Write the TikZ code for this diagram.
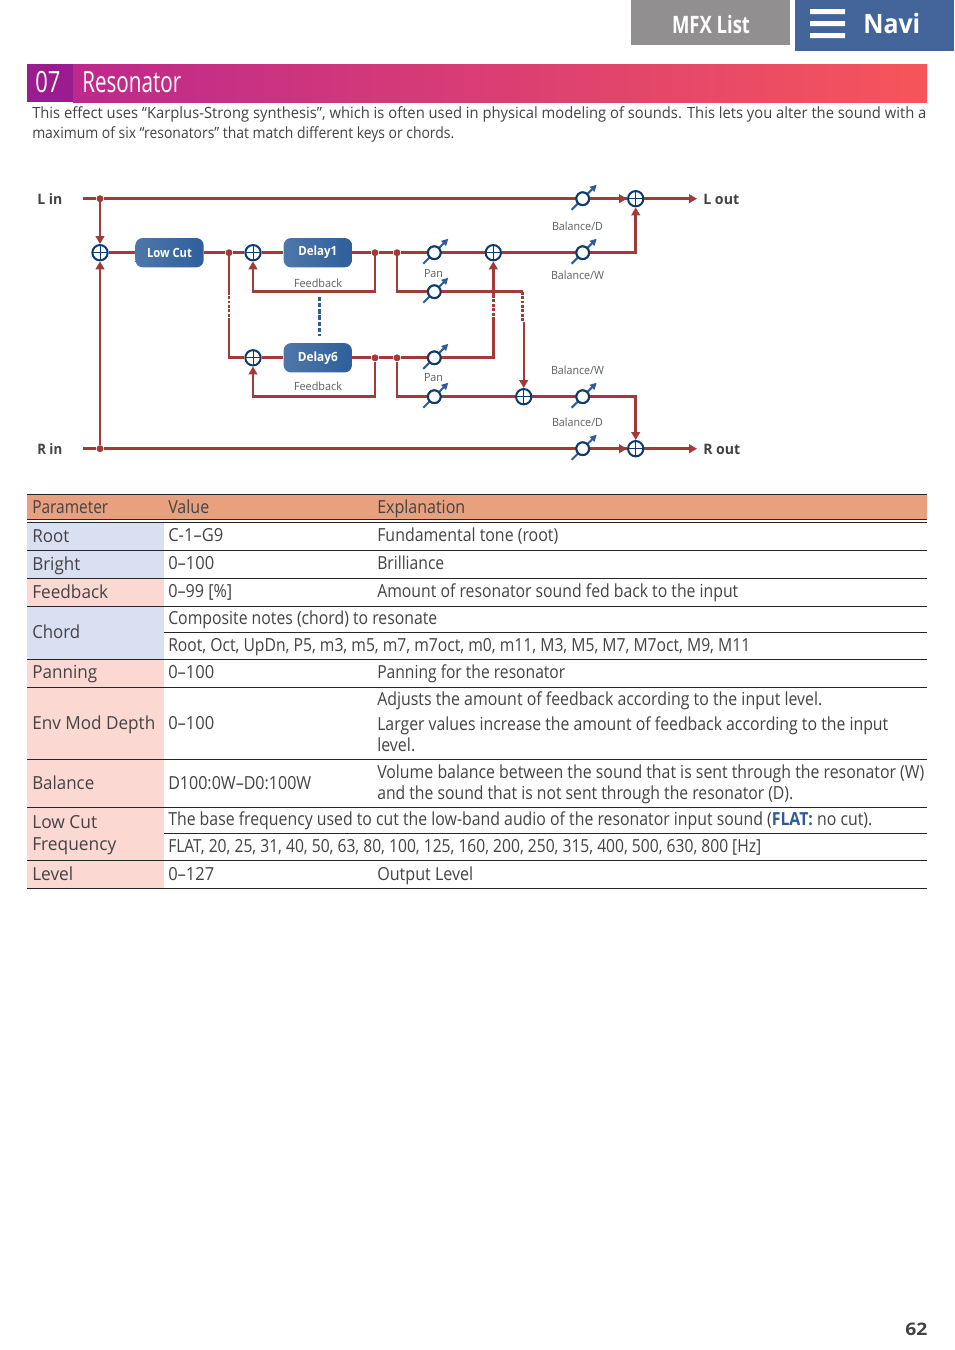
\documentclass[tikz,border=0pt]{standalone}
\usepackage{fontspec}
\usepackage{graphicx}
\usetikzlibrary{arrows.meta,calc}
\setmainfont{Open Sans}
\newlength\pxu \pxu=0.75pt
\newcommand{\fit}[2]{\resizebox{#1\pxu}{\height}{#2}}
\definecolor{sigred}{HTML}{A23A37}
\definecolor{knobblue}{HTML}{0F3A6E}
\definecolor{armblue}{HTML}{2F5C94}
\definecolor{boxblue}{HTML}{2E5F9C}
\definecolor{txt}{HTML}{444244}
\definecolor{heador}{HTML}{E8A07F}
\definecolor{rowblue}{HTML}{D9E0F2}
\definecolor{rowpink}{HTML}{FBD9D2}
\tikzset{
  x=0.75pt,y=-0.75pt,
  sig/.style={draw=sigred,line width=2pt,line join=miter},
  sigthin/.style={draw=sigred,line width=1.6pt},
  sigdash/.style={draw=sigred,line width=2pt,dash pattern=on 2.2pt off 1.1pt},
  tip/.style={-{Triangle[length=6pt,width=6.5pt]}},
  dot/.style={circle,fill=sigred,inner sep=0pt,minimum size=5.2pt},
  sumj/.style={circle,draw=knobblue,fill=white,line width=1.5pt,inner sep=0pt,minimum size=11.5pt,
     path picture={\draw[knobblue,line width=0.7pt]
       (path picture bounding box.north)--(path picture bounding box.south)
       (path picture bounding box.west)--(path picture bounding box.east);}},
  knob/.style={circle,draw=knobblue,fill=white,line width=1.5pt,inner sep=0pt,minimum size=9.5pt},
  arm/.style={draw=armblue,line width=1.5pt,-{Triangle[length=5pt,width=5pt]}},
  fx/.style={rounded corners=5.5pt,left color=boxblue!85!white,right color=boxblue,draw=none,
     inner sep=0pt,text=white,font=\fontsize{9.5}{11}\selectfont\bfseries,minimum width=51.2pt,minimum height=22pt},
  small/.style={inner sep=0pt,text=txt!85!white,font=\fontsize{8.5}{10}\selectfont},
  io/.style={inner sep=0pt,text=txt,anchor=base west,font=\fontsize{10.8}{12}\selectfont\bfseries},
  cell/.style={inner sep=0pt,anchor=base west,text=txt,font=\fontsize{13.5}{15}\selectfont},
  intro/.style={inner sep=0pt,anchor=base west,text=txt,font=\fontsize{11.6}{13}\selectfont},
  rulethin/.style={draw=black!85,line width=0.75pt},
}
\newcommand{\tx}[5]{\node[cell] (#1) at (#2,#3) {\fit{#4}{#5}};}
\newcommand{\knobat}[3]{%
  \node[knob] (#1) at (#2,#3) {};
  \draw[arm] ($(#1)+(-11,11)$) -- ($(#1)+(14,-14)$);
  \node[knob] at (#1) {};}
\newcommand{\nudge}[1]{\raisebox{-0.6pt}{#1}}
\begin{document}
\begin{tikzpicture}
\useasboundingbox (0,0) rectangle (954,1350);
% top tabs
\fill[fill=white] (0,0) rectangle (954,1350);
\node[fill={rgb,255:red,145;green,143;blue,144},minimum width=119.25pt,minimum height=33.75pt,inner sep=0pt,anchor=north west] (tabmfx) at (631,0) {};
\node[text=white,inner sep=0pt,font=\fontsize{18}{20}\selectfont\bfseries] (tabmfxt) at (711,24.2) {\fit{78}{MFX List}};
\node[fill={rgb,255:red,66;green,100;blue,153},minimum width=119.25pt,minimum height=38.25pt,inner sep=0pt,anchor=north west] (tabnavi) at (795,0) {};
\fill[white] (810,9) rectangle (845,14) (810,21) rectangle (845,26) (810,33) rectangle (845,38);
\node[text=white,inner sep=0pt,anchor=base west,font=\fontsize{20}{22}\selectfont\bfseries] (tabnavit) at (863,33) {\fit{57}{Navi}};
% title
\shade[left color={rgb,255:red,190;green,40;blue,140},middle color={rgb,255:red,234;green,72;blue,118},right color={rgb,255:red,246;green,85;blue,90}] (73,64) rectangle (927,102);
\fill[fill={rgb,255:red,155;green,28;blue,142}] (27,64) rectangle (73,102);
\node[text=white,inner sep=0pt,anchor=base west,font=\fontsize{22}{24}\selectfont] (tnum) at (35,92) {\fit{25}{07}};
\node[text=white,inner sep=0pt,anchor=base west,font=\fontsize{22}{24}\selectfont] (ttitle) at (82,92) {\fit{99}{Resonator}};
\node[intro] (in1) at (32,118.5) {\fit{894}{This effect uses “Karplus-Strong synthesis”, which is often used in physical modeling of sounds. This lets you alter the sound with a}};
\node[intro] (in2) at (32,138.5) {\fit{422}{maximum of six “resonators” that match different keys or chords.}};
% ---------- diagram ----------
\node[io] (lin) at (37,204) {\fit{25}{L in}};
\node[io] (rin) at (37,454) {\fit{25}{R in}};
\node[io] (lout) at (703,204) {\fit{36}{L out}};
\node[io] (rout) at (703,454) {\fit{37}{R out}};
\coordinate (ls) at (83.3,198.7);
\coordinate (rs) at (83.3,448.7);
\coordinate (le) at (697,198.7);
\coordinate (re) at (697,448.7);
\node[dot] (dl) at (100,198.7) {};
\node[dot] (dr) at (100,448.7) {};
\node[sumj] (s1) at (100,252.7) {};
\node[fx] (lc) at (169.5,252.7) {\nudge{\fit{45}{Low Cut}}};
\node[dot] (da) at (229,252.7) {};
\node[sumj] (s2) at (253,252.7) {};
\node[fx] (d1) at (317.8,252.7) {\nudge{\fit{39}{Delay1}}};
\node[dot] (f1) at (375,252.7) {};
\node[dot] (p1) at (397,252.7) {};
\node[sumj] (s6) at (253,357.8) {};
\node[fx] (d6) at (317.8,357.8) {\nudge{\fit{40}{Delay6}}};
\node[dot] (f6) at (375,357.8) {};
\node[dot] (p6) at (397,357.8) {};
\node[sumj] (sl) at (635.7,198.7) {};
\node[sumj] (sr) at (635.7,448.7) {};
\node[sumj] (sm1) at (493.3,252.7) {};
\node[sumj] (sm2) at (523.7,396.7) {};
\node[small] (lf1) at (318,283) {\fit{48}{Feedback}};
\node[small] (lf6) at (318,386) {\fit{48}{Feedback}};
\node[small] (lp1) at (433.5,274) {\fit{19}{Pan}};
\node[small] (lp2) at (433.5,378) {\fit{19}{Pan}};
\node[small] (lb1) at (577.5,226) {\fit{51}{Balance/D}};
\node[small] (lb2) at (577.5,275) {\fit{53}{Balance/W}};
\node[small] (lb3) at (577.5,370) {\fit{53}{Balance/W}};
\node[small] (lb4) at (577.5,422) {\fit{51}{Balance/D}};
% corners
\coordinate (c1a) at (375,291.7);
\coordinate (c1b) at (253,291.7);
\coordinate (c6a) at (375,396.7);
\coordinate (c6b) at (253,396.7);
\coordinate (cp1) at (397,291.7);
\coordinate (cp2) at (397,396.7);
\coordinate (cd1) at (522.7,291.7);
\coordinate (cd2) at (522.7,321.7);
\coordinate (cd3) at (523.7,321.7);
\coordinate (cv1) at (229,291.7);
\coordinate (cv2) at (229,320);
\coordinate (cv3) at (229,357.8);
\coordinate (cm1) at (493.3,357.8);
\coordinate (cm2) at (493.3,320);
\coordinate (cm3) at (493.3,296);
\coordinate (cb1) at (635.7,252.7);
\coordinate (cb2) at (635.7,396.7);
\coordinate (bd1) at (319.7,297);
\coordinate (bd2) at (319.7,336);
% wires under knobs
\draw[sig] (ls) -- (dl);
\draw[sig] (rs) -- (dr);
\draw[sig] (dl) -- (sl);
\draw[sig] (dr) -- (sr);
\draw[sig] (s1) -- (lc);
\draw[sig] (lc) -- (da);
\draw[sig] (da) -- (s2);
\draw[sig] (s2) -- (d1);
\draw[sig] (d1) -- (f1);
\draw[sig] (f1) -- (p1);
\draw[sig] (p1) -- (sm1);
\draw[sig] (sm1) -- (cb1) -- ($(sl.south)+(0,7)$);
\draw[sig] (s6) -- (d6);
\draw[sig] (d6) -- (f6);
\draw[sig] (f6) -- (p6);
\draw[sig] (p6) -- (cm1) -- (cm2);
\draw[sig] (p1) -- (cp1) -- (cd1);
\draw[sig] (p6) -- (cp2) -- (sm2);
\draw[sig] (sm2) -- (cb2) -- ($(sr.north)+(0,-7)$);
\draw[sig] (da) -- (cv1);
\draw[sigdash] (cv1) -- (cv2);
\draw[sig] (cv2) -- (cv3) -- (s6);
\draw[sig] (f1) -- (c1a) -- (c1b) -- ($(s2.south)+(0,7)$);
\draw[sig] (f6) -- (c6a) -- (c6b) -- ($(s6.south)+(0,7)$);
\draw[sigdash] (cm2) -- (cm3);
\draw[sigdash] (cd1) -- (cd2);
\draw[draw=armblue,line width=2pt,dash pattern=on 3.2pt off 1.4pt] (bd1) -- (bd2);
% arrows
\draw[sig,tip] (dl) -- (s1);
\draw[sig,tip] (dr) -- (s1);
\draw[sig,tip] (sr) -- (re);
\draw[sig,tip] (sl) -- (le);
\draw[sig,tip] ($(sl.west)+(-8,0)$) -- (sl);
\draw[sig,tip] ($(sr.west)+(-8,0)$) -- (sr);
\draw[sig,tip] ($(sl.south)+(0,8)$) -- (sl);
\draw[sig,tip] ($(sr.north)+(0,-8)$) -- (sr);
\draw[sig,tip] ($(s2.south)+(0,8)$) -- (s2);
\draw[sig,tip] ($(s6.south)+(0,8)$) -- (s6);
\draw[sig,tip] (cm3) -- (sm1);
\draw[sigthin,tip] (cd3) -- (sm2);
% knobs
\knobat{k1}{582.7}{198.7}
\knobat{k2}{582.7}{252.7}
\knobat{k3}{434.3}{252.7}
\knobat{k4}{434.3}{291.7}
\knobat{k5}{434.3}{357.8}
\knobat{k6}{434.3}{396.7}
\knobat{k7}{582.7}{396.7}
\knobat{k8}{582.7}{448.7}
% ---------- table ----------
\fill[heador] (27,495) rectangle (927,519.5);
\fill[rowblue] (27,522) rectangle (164,578.3);
\fill[rowpink] (27,578.3) rectangle (164,606.3);
\fill[rowblue] (27,606.3) rectangle (164,659.3);
\fill[rowpink] (27,659.3) rectangle (164,888.5);
\draw[rulethin] (27,494.5) -- (927,494.5);
\draw[rulethin] (27,519.7) -- (927,519.7);
\draw[rulethin] (27,522.2) -- (927,522.2);
\draw[rulethin] (27,550.3) -- (927,550.3);
\draw[rulethin] (27,578.3) -- (927,578.3);
\draw[rulethin] (27,606.3) -- (927,606.3);
\draw[rulethin] (164,632.5) -- (927,632.5);
\draw[rulethin] (27,659.3) -- (927,659.3);
\draw[rulethin] (27,687.3) -- (927,687.3);
\draw[rulethin] (27,759.5) -- (927,759.5);
\draw[rulethin] (27,807.5) -- (927,807.5);
\draw[rulethin] (164,833.5) -- (927,833.5);
\draw[rulethin] (27,860.5) -- (927,860.5);
\draw[rulethin] (27,888.5) -- (927,888.5);
\tx{h1}{32}{513.5}{76}{Parameter}
\tx{h2}{168}{513.5}{41}{Value}
\tx{h3}{377}{513.5}{88}{Explanation}
\tx{a1}{32}{542}{37}{Root}
\tx{a2}{168}{541.7}{55}{C-1–G9}
\tx{a3}{377}{541.7}{181}{Fundamental tone (root)}
\tx{b1}{32}{570}{48}{Bright}
\tx{b2}{168}{569.7}{46}{0–100}
\tx{b3}{377}{569.7}{67}{Brilliance}
\tx{c1}{32}{598}{76}{Feedback}
\tx{c2}{168}{597.7}{64}{0–99 [\%]}
\tx{c3}{377}{597.7}{361}{Amount of resonator sound fed back to the input}
\tx{e1}{32}{638.5}{48}{Chord}
\tx{e2}{168}{624.5}{269}{Composite notes (chord) to resonate}
\tx{e3}{168}{651.5}{582}{Root, Oct, UpDn, P5, m3, m5, m7, m7oct, m0, m11, M3, M5, M7, M7oct, M9, M11}
\tx{f1t}{32}{678.5}{65}{Panning}
\tx{f2t}{168}{678.5}{46}{0–100}
\tx{f3t}{377}{678.5}{188}{Panning for the resonator}
\tx{g1}{32}{729}{123}{Env Mod Depth}
\tx{g2}{168}{729}{46}{0–100}
\tx{g3}{377}{705.5}{445}{Adjusts the amount of feedback according to the input level.}
\tx{g4}{377}{730.5}{511}{Larger values increase the amount of feedback according to the input}
\tx{g5}{377}{751.5}{38}{level.}
\tx{i1}{32}{789.5}{62}{Balance}
\tx{i2}{168}{789}{143}{D100:0W–D0:100W}
\tx{i3}{377}{778.5}{547}{Volume balance between the sound that is sent through the resonator (W)}
\tx{i4}{377}{799.5}{416}{and the sound that is not sent through the resonator (D).}
\tx{j1}{32}{828.5}{65}{Low Cut}
\tx{j2}{32}{850}{84}{Frequency}
\tx{j3}{168}{825.5}{704}{The base frequency used to cut the low-band audio of the resonator input sound (\textcolor{armblue}{\textbf{FLAT:}} no cut).}
\tx{j4}{168}{852.5}{593}{FLAT, 20, 25, 31, 40, 50, 63, 80, 100, 125, 160, 200, 250, 315, 400, 500, 630, 800 [Hz]}
\tx{l1}{32}{880.5}{41}{Level}
\tx{l2}{168}{880}{46}{0–127}
\tx{l3}{377}{880}{96}{Output Level}
\node[inner sep=0pt,anchor=base west,text=txt,font=\fontsize{13}{15}\selectfont\bfseries] (pg) at (905,1335.5) {\fit{22}{62}};
\end{tikzpicture}
\end{document}
